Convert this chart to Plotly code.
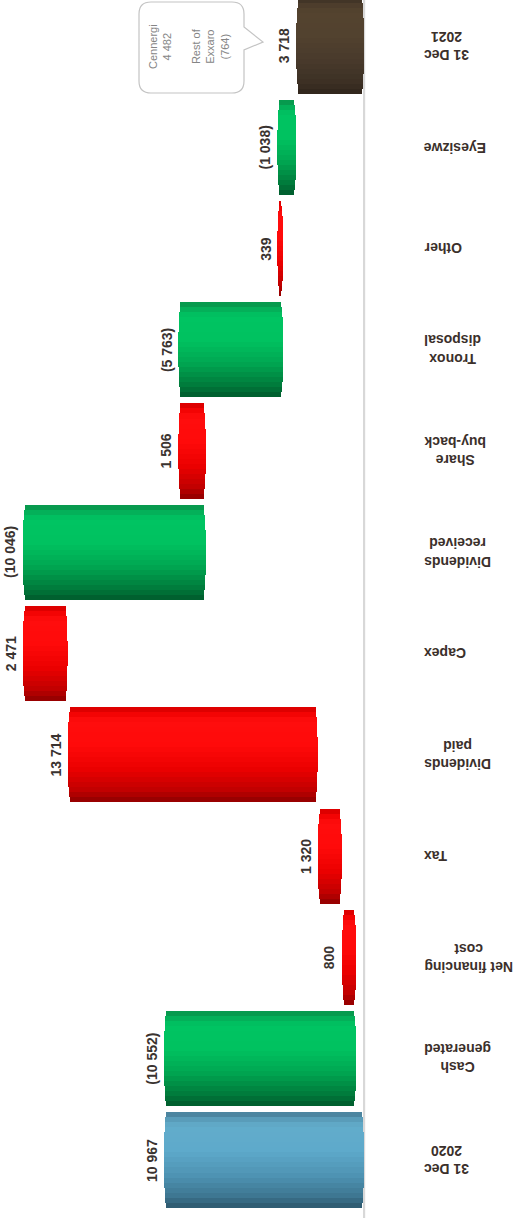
import numpy as np
import plotly.graph_objects as go

# ---- data -------------------------------------------------------------
categories = ["31 Dec<br>2020", "Cash<br>generated", "Net financing<br>cost", "Tax",
              "Dividends<br>paid", "Capex", "Dividends<br>received", "Share<br>buy-back",
              "Tronox<br>disposal", "Other", "Eyesizwe", "31 Dec<br>2021"]
opening_net_debt = 10967
movements = [-10552, 800, 1320, 13714, 2471, -10046, 1506, -5763, 339, -1038]
closing_net_debt = 3718
callout_lines = ["Cennergi", "4 482", "", "Rest of", "Exxaro", "(764)"]

# ---- waterfall geometry (bases / lengths / kinds) ----------------------
bases, lengths, kinds, labels = [0], [opening_net_debt], ["start"], []
labels.append(f"{opening_net_debt:,}".replace(",", " "))
running = opening_net_debt
for m in movements:
    bases.append(min(running, running + m))
    lengths.append(abs(m))
    kinds.append("up" if m > 0 else "down")
    txt = f"{abs(m):,}".replace(",", " ")
    labels.append(txt if m > 0 else f"({txt})")
    running += m
bases.append(0)
lengths.append(closing_net_debt)
kinds.append("end")
labels.append(f"{closing_net_debt:,}".replace(",", " "))
positions = list(range(len(categories)))

# ---- layout constants -------------------------------------------------
W, H = 517, 1218
M_L, M_R, M_T, M_B = 0, 151, 0, 0
PLOT_W = W - M_L - M_R
PLOT_H = H - M_T - M_B
X_RANGE = [19956, -110]
Y_RANGE = [-0.573, 11.454]
PX_PER_UNIT = PLOT_W / (X_RANGE[0] - X_RANGE[1])
BAR_W = 0.94
N_BANDS = 19
CAP_PX = 3.0

# colour stops across the cylinder thickness (0 = lower edge, 1 = upper edge)
shades = {
    "start": [(0.0, "#2c566b"), (0.12, "#3d7590"), (0.35, "#4f94b4"),
              (0.6, "#5eaacb"), (0.85, "#62accb"), (0.95, "#5595b2"), (1.0, "#41748c")],
    "down": [(0.0, "#00592b"), (0.12, "#007a3b"), (0.35, "#00a651"),
             (0.6, "#00c260"), (0.85, "#00c462"), (0.95, "#05a855"), (1.0, "#0a8a46")],
    "up": [(0.0, "#8e0000"), (0.12, "#c00000"), (0.35, "#ec0000"),
           (0.6, "#ff0a0a"), (0.85, "#ff0d0d"), (0.95, "#ee0000"), (1.0, "#cc0000")],
    "end": [(0.0, "#2f251b"), (0.12, "#3c3024"), (0.35, "#48392b"),
            (0.6, "#52422f"), (0.85, "#54432f"), (0.95, "#4a3b2b"), (1.0, "#3a2e22")],
}


def hex_to_rgb(h):
    h = h.lstrip("#")
    return np.array([int(h[i:i + 2], 16) for i in (0, 2, 4)], dtype=float)


def shade_at(kind, t):
    stops = shades[kind]
    ts = [s[0] for s in stops]
    cols = np.array([hex_to_rgb(s[1]) for s in stops])
    rgb = [np.interp(t, ts, cols[:, c]) for c in range(3)]
    return "rgb({:.0f},{:.0f},{:.0f})".format(*rgb)


fig = go.Figure()

# faint band behind the axis line
fig.add_shape(type="rect", xref="x", yref="paper", x0=0, x1=X_RANGE[1],
              y0=0, y1=1, fillcolor="#f8f8f8", line=dict(width=0), layer="below")

# each bar is built from thin horizontal bands to give a shaded cylinder,
# with the band ends pulled in along an ellipse for rounded caps
for k in range(N_BANDS):
    tc = (k + 0.5) / N_BANDS
    u = 2 * tc - 1
    band_base, band_len, band_col = [], [], []
    for b, L, kd in zip(bases, lengths, kinds):
        len_px = L * PX_PER_UNIT
        r = min(CAP_PX, len_px / 2)
        inset = r * (1 - np.sqrt(max(0.0, 1 - u * u))) / PX_PER_UNIT
        band_base.append(b + inset)
        band_len.append(max(L - 2 * inset, 0))
        band_col.append(shade_at(kd, tc))
    fig.add_trace(go.Bar(
        orientation="h",
        y=positions,
        x=band_len,
        base=band_base,
        width=BAR_W / N_BANDS,
        offset=-BAR_W / 2 + k * BAR_W / N_BANDS,
        marker=dict(color=band_col, line=dict(width=0)),
        hoverinfo="skip",
        showlegend=False,
    ))

annotations = []
label_font = dict(family="Liberation Sans, Arial, sans-serif", size=14,
                  color="#3a3330", weight="bold")

# value labels at the far end of each bar
for i, (b, L, txt) in enumerate(zip(bases, lengths, labels)):
    annotations.append(dict(
        x=b + L, y=i, xref="x", yref="y", text=txt, showarrow=False,
        textangle=-90, xanchor="right", yanchor="middle", xshift=-2,
        font=label_font,
    ))

# category labels (upside down, to the right of the axis line)
for i, cat in enumerate(categories):
    annotations.append(dict(
        x=(422 - M_L) / PLOT_W, y=i, xref="paper", yref="y", text=cat,
        showarrow=False, textangle=180, xanchor="left", yanchor="middle",
        align="center", font=dict(family="Liberation Sans, Arial, sans-serif",
                                  size=14, color="#3b302b", weight="bold"),
    ))

# callout text
annotations.append(dict(
    x=189 / PLOT_W, y=1 - 47 / PLOT_H, xref="paper", yref="paper",
    text="<br>".join(callout_lines), showarrow=False, textangle=-90,
    xanchor="center", yanchor="middle", align="center",
    font=dict(family="Liberation Sans, Arial, sans-serif", size=11, color="#858585"),
))

# speech bubble around the callout (pixel path anchored at plot top-left)
bubble = ("M 151,-2 L 232,-2 Q 244,-2 244,-14 L 244,-27 L 263,-42 L 244,-50 "
          "L 244,-81 Q 244,-93 232,-93 L 151,-93 Q 139,-93 139,-81 "
          "L 139,-14 Q 139,-2 151,-2 Z")
fig.add_shape(type="path", path=bubble, xref="paper", yref="paper",
              xsizemode="pixel", ysizemode="pixel", xanchor=0, yanchor=1,
              line=dict(color="#c4c4c4", width=1.2), fillcolor="white",
              layer="above")

fig.update_layout(
    width=W, height=H,
    margin=dict(l=M_L, r=M_R, t=M_T, b=M_B, pad=0),
    paper_bgcolor="white", plot_bgcolor="white",
    barmode="overlay",
    bargap=0,
    xaxis=dict(range=X_RANGE, showgrid=False, showticklabels=False, ticks="",
               zeroline=True, zerolinecolor="#d8d8d8", zerolinewidth=2, fixedrange=True),
    yaxis=dict(range=Y_RANGE, showgrid=False, showticklabels=False, ticks="",
               zeroline=False, fixedrange=True),
    annotations=annotations,
    showlegend=False,
)

fig.write_html("out.html")
